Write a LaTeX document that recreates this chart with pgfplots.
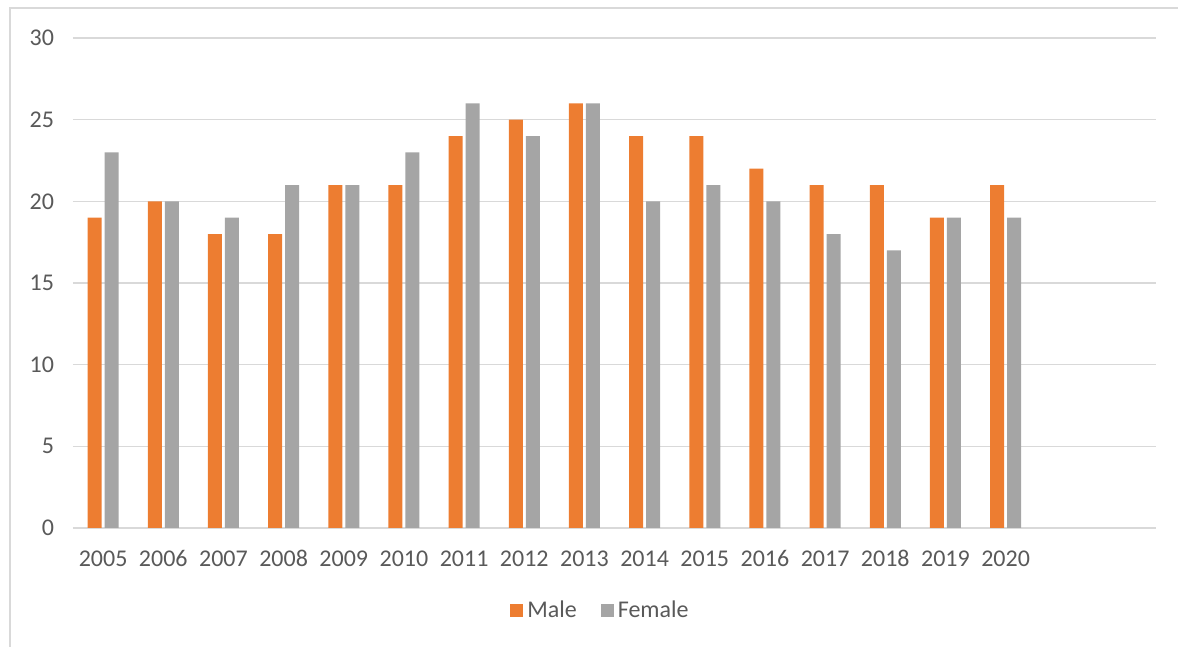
\documentclass[border=0pt]{standalone}
\usepackage{pgfplots}
\pgfplotsset{compat=1.18}
\usepackage{fontspec}
\setmainfont{Carlito}
\definecolor{male}{HTML}{ED7D31}
\definecolor{female}{HTML}{A5A5A5}
\definecolor{gridc}{HTML}{D9D9D9}
\definecolor{txt}{HTML}{595959}
\begin{document}
\begin{tikzpicture}
\useasboundingbox (0,0) rectangle (589bp,323.5bp);
\draw[gridc, line width=0.7bp] (5bp,0) -- (5bp,319.5bp) -- (589bp,319.5bp);
\begin{axis}[
  at={(36.5bp,59.5bp)}, anchor=south west,
  scale only axis, width=541.5bp, height=245bp,
  ybar=1.5bp, bar width=7bp,
  xmin=-0.5, xmax=17.5, ymin=0, ymax=30,
  xtick={0,...,15},
  xticklabels={2005,2006,2007,2008,2009,2010,2011,2012,2013,2014,2015,2016,2017,2018,2019,2020},
  ytick={0,5,...,30},
  ymajorgrids, grid style={gridc, line width=0.7bp},
  axis x line*=bottom, axis y line*=left,
  x axis line style={gridc, line width=1.3bp, -},
  y axis line style={draw=none},
  major tick length=0pt,
  tick label style={font=\fontsize{12bp}{14bp}\selectfont, text=txt},
  /pgf/number format/assume math mode=true,
  yticklabel style={anchor=east, xshift=-6bp},
  xticklabel style={anchor=base, yshift=-19bp},
  legend style={at={(0.488,-0.169)}, anchor=center, draw=none, fill=none,
    legend columns=2, font=\fontsize{12bp}{14bp}\selectfont, text=txt,
    /tikz/every even column/.append style={column sep=10bp}},
  legend image code/.code={\fill[#1] (0bp,-3.2bp) rectangle (6.5bp,3.3bp);},
]
\addplot[draw=none, fill=male] coordinates {(0,19) (1,20) (2,18) (3,18) (4,21) (5,21) (6,24) (7,25) (8,26) (9,24) (10,24) (11,22) (12,21) (13,21) (14,19) (15,21)};
\addplot[draw=none, fill=female] coordinates {(0,23) (1,20) (2,19) (3,21) (4,21) (5,23) (6,26) (7,24) (8,26) (9,20) (10,21) (11,20) (12,18) (13,17) (14,19) (15,19)};
\legend{Male, Female}
\end{axis}
\end{tikzpicture}
\end{document}
